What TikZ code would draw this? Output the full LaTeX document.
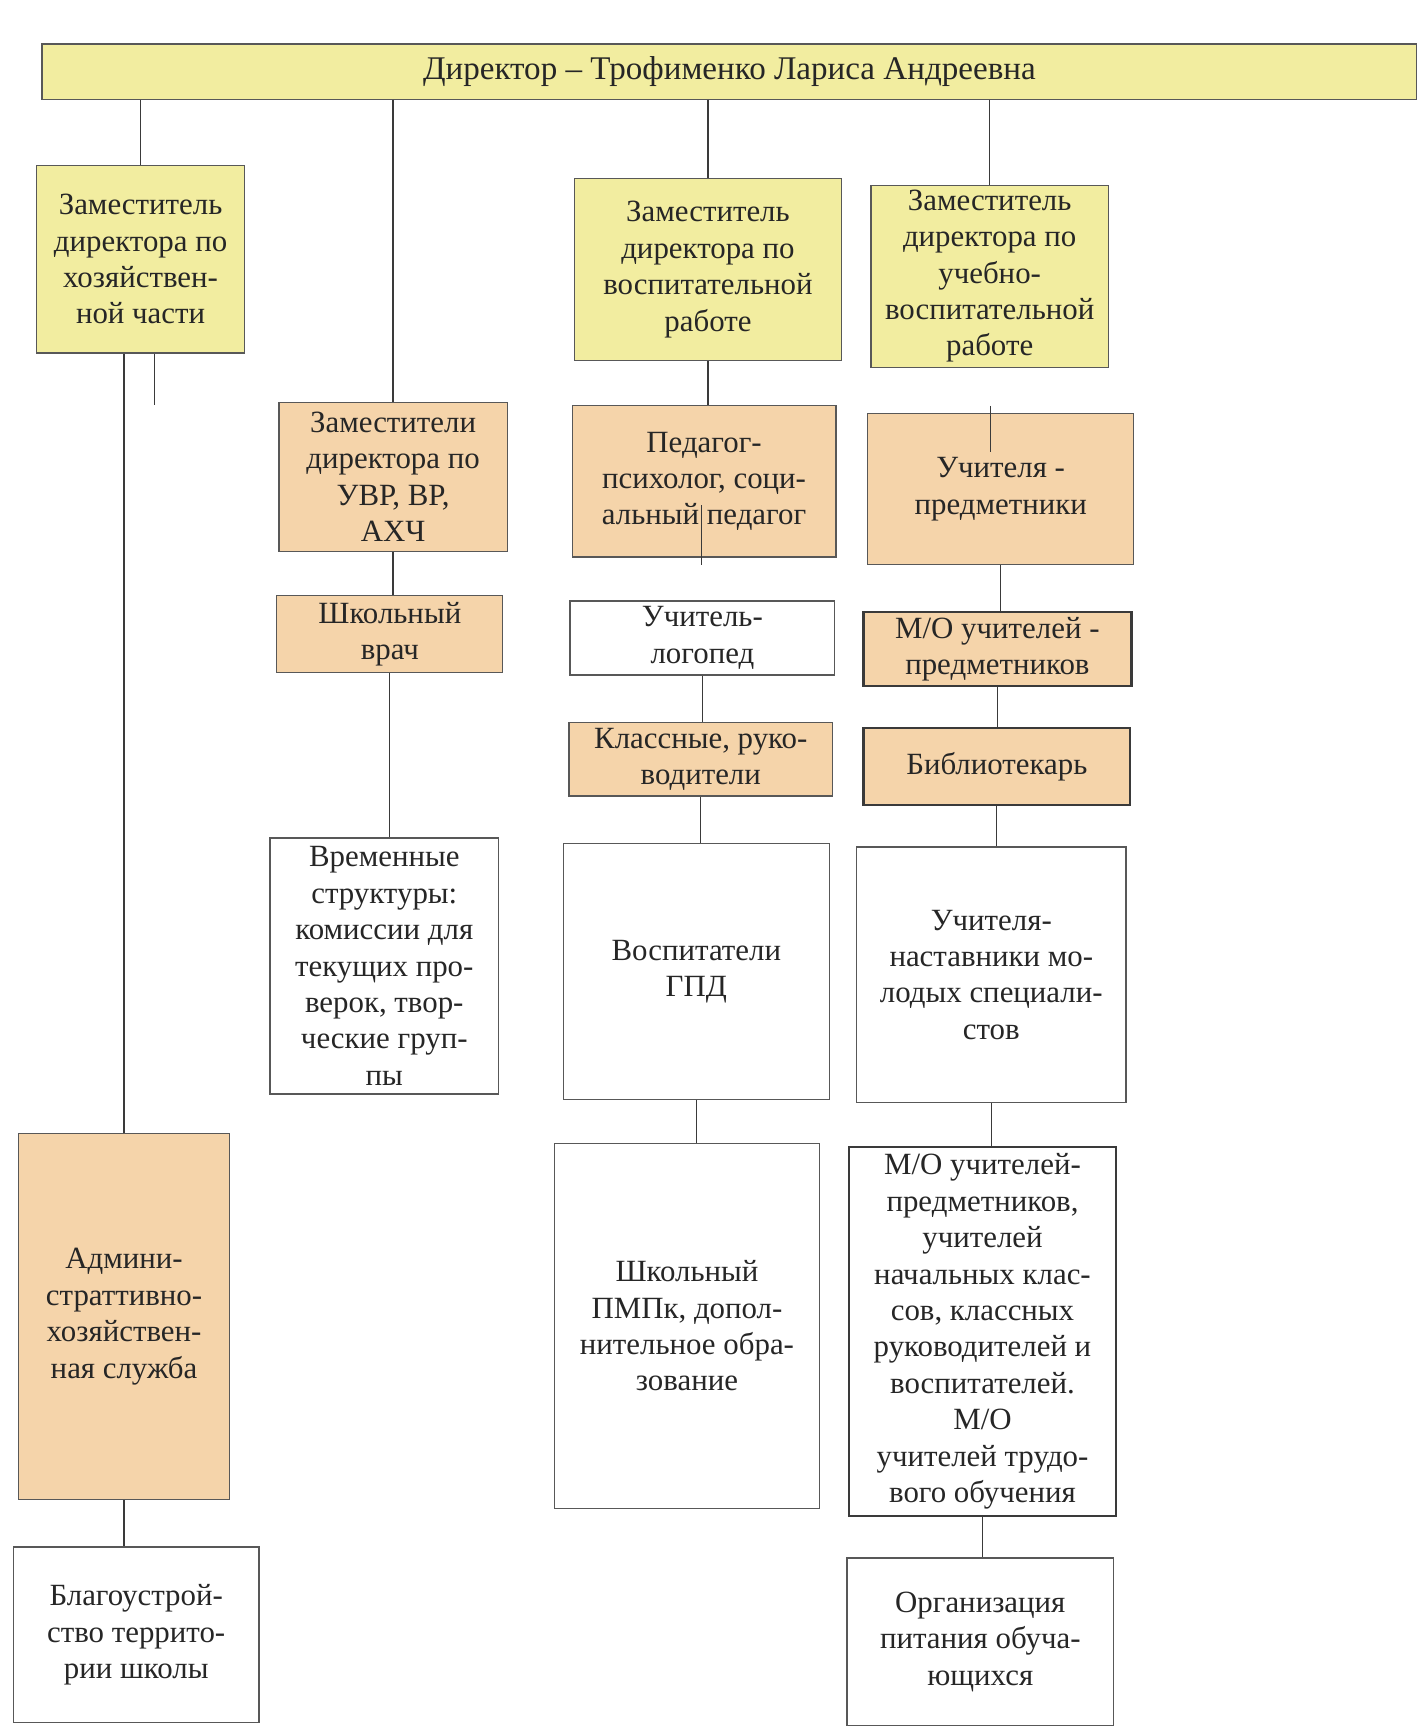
\documentclass[tikz,border=0pt]{standalone}
\usepackage{fontspec}
\setmainfont{Liberation Serif}
\definecolor{yel}{HTML}{F2EDA0}
\definecolor{org}{HTML}{F5D4AA}
\definecolor{ln}{HTML}{3A3A3A}
\newcommand{\bx}[7]{\node[#2, minimum width={(#5-#3)*0.5pt}, minimum height={(#6-#4)*0.5pt}] (#1) at ({(#3+#5)/2},{(#4+#6)/2}) {#7};}
\begin{document}
\begin{tikzpicture}[x=0.5pt,y=-0.5pt,
  base/.style={draw=ln!85, line width=0.6pt, align=center, inner sep=0pt, text=black!85, font=\fontsize{14}{16.5}\selectfont},
  yelbox/.style={base, fill=yel},
  orgbox/.style={base, fill=org},
  whtbox/.style={base, fill=white},
  strong/.style={draw=ln, line width=1.1pt},
  conn/.style={draw=ln, line width=0.6pt}]
\useasboundingbox[fill=white] (0,0) rectangle (1285,1568);

% director
\bx{dir}{yelbox, font=\fontsize{15}{18}\selectfont}{38}{40}{1285}{90}{Директор – Трофименко Лариса Андреевна}

% column 1
\bx{zam1}{yelbox}{33}{150}{222}{320}{Заместитель\\директора по\\хозяйствен-\\ной части}
\bx{adm}{orgbox}{17}{1028}{208}{1360}{Админи-\\страттивно-\\хозяйствен-\\ная служба}
\bx{blg}{whtbox}{12}{1403}{235}{1562}{Благоустрой-\\ство террито-\\рии школы}

% column 2
\bx{uvr}{orgbox}{253}{365}{460}{500}{Заместители\\директора по\\УВР, ВР,\\АХЧ}
\bx{vrach}{orgbox}{251}{540}{456}{610}{Школьный\\врач}
\bx{vrem}{whtbox}{245}{760}{452}{992}{Временные\\структуры:\\комиссии для\\текущих про-\\верок, твор-\\ческие груп-\\пы}

% column 3
\bx{zam3}{yelbox}{521}{162}{763}{327}{Заместитель\\директора по\\воспитательной\\работе}
\bx{ped}{orgbox}{519}{368}{758}{505}{Педагог-\\психолог, соци-\\альный педагог}
\bx{log}{whtbox}{517}{545}{757}{612}{Учитель-\\логопед}
\bx{kl}{orgbox}{516}{655}{755}{722}{Классные, руко-\\водители}
\bx{gpd}{whtbox}{511}{765}{752}{997}{Воспитатели\\ГПД}
\bx{pmpk}{whtbox}{503}{1037}{743}{1368}{Школьный\\ПМПк, допол-\\нительное обра-\\зование}

% column 4
\bx{zam4}{yelbox}{790}{168}{1005}{333}{Заместитель\\директора по\\учебно-\\воспитательной\\работе}
\bx{upr}{orgbox}{787}{375}{1028}{512}{Учителя -\\предметники}
\bx{mo1}{orgbox,strong}{783}{555}{1026}{622}{М/О учителей -\\предметников}
\bx{bib}{orgbox,strong}{783}{660}{1025}{730}{Библиотекарь}
\bx{nast}{whtbox}{777}{768}{1021}{1000}{Учителя-\\наставники мо-\\лодых специали-\\стов}
\bx{mo2}{whtbox,strong}{770}{1040}{1012}{1375}{М/О учителей-\\предметников,\\учителей\\начальных клас-\\сов, классных\\руководителей и\\воспитателей.\\М/О\\учителей трудо-\\вого обучения}
\bx{orgp}{whtbox}{768}{1413}{1010}{1565}{Организация\\питания обуча-\\ющихся}

% connectors from director
\draw[conn] (dir.south -| zam1.north) -- (zam1.north);
\draw[conn] (dir.south -| uvr.north) -- (uvr.north);
\draw[conn] (dir.south -| zam3.north) -- (zam3.north);
\draw[conn] (dir.south -| zam4.north) -- (zam4.north);

% column 1
\draw[conn] (zam1.south -| adm.north) -- (adm.north);
\coordinate (s1) at (140,367);
\draw[conn] (zam1.south -| s1) -- (s1);
\draw[conn] (adm.south) -- (adm.south |- blg.north);

% column 2
\draw[conn] (uvr.south) -- (uvr.south |- vrach.north);
\draw[conn] (vrach.south) -- (vrach.south |- vrem.north);

% column 3
\draw[conn] (zam3.south) -- (zam3.south |- ped.north);
\coordinate (s2a) at (636,458);
\coordinate (s2b) at (636,512);
\draw[conn] (s2a) -- (s2b);
\draw[conn] (log.south) -- (log.south |- kl.north);
\draw[conn] (kl.south) -- (kl.south |- gpd.north);
\draw[conn] (gpd.south) -- (gpd.south |- pmpk.north);

% column 4
\coordinate (s3a) at (898,368);
\coordinate (s3b) at (898,410);
\draw[conn] (s3a) -- (s3b);
\draw[conn] (upr.south) -- (upr.south |- mo1.north);
\draw[conn] (mo1.south) -- (mo1.south |- bib.north);
\draw[conn] (bib.south) -- (bib.south |- nast.north);
\draw[conn] (nast.south) -- (nast.south |- mo2.north);
\draw[conn] (mo2.south) -- (mo2.south |- orgp.north);
\end{tikzpicture}
\end{document}
